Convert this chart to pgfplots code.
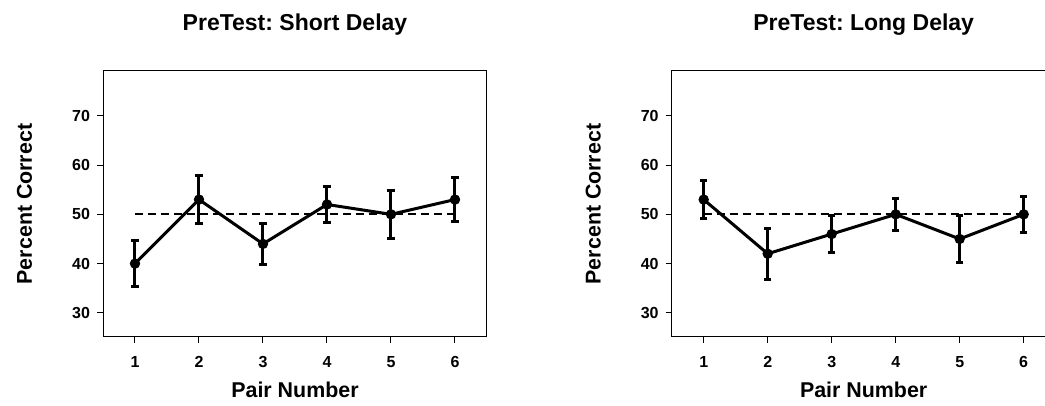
\documentclass[border=0pt]{standalone}
\usepackage{fontspec}
\setmainfont{Liberation Sans}
\usepackage{pgfplots}
\pgfplotsset{compat=1.18}
\frenchspacing

\pgfplotsset{
  delayaxis/.style={
    scale only axis,
    width=192pt, height=133pt,
    xmin=0.5, xmax=6.5, ymin=25.1, ymax=79.1,
    xtick={1,2,3,4,5,6}, ytick={30,40,50,60,70},
    tick align=outside, tick pos=left,
    major tick length=3pt,
    axis line style={line width=0.5pt},
    every tick/.style={black, line width=0.5pt},
    /pgf/number format/assume math mode=true,
    tick label style={font=\fontsize{8}{9}\selectfont\bfseries},
    xticklabel style={yshift=-3pt},
    title style={font=\fontsize{11.5}{13}\selectfont\bfseries,
                 at={(axis description cs:0.5,1)}, anchor=base, yshift=14.4pt},
    xlabel style={font=\fontsize{10.7}{12}\selectfont\bfseries,
                  at={(axis description cs:0.5,0)}, anchor=base, yshift=-30.5pt},
    ylabel style={font=\fontsize{10.7}{12}\selectfont\bfseries,
                  at={(axis description cs:0,0.5)}, anchor=center,
                  yshift=39.2pt},
    xlabel={Pair Number}, ylabel={Percent Correct},
  },
  meanline/.style={black, line width=1.5pt, mark=*, mark size=1.8pt,
    error bars/.cd, y dir=both, y explicit,
    error bar style={line width=1.5pt},
    error mark options={rotate=90, line width=1.5pt, mark size=1.8pt}},
  chance/.style={black, line width=1pt, dash pattern=on 4pt off 2.5pt, forget plot},
}

\begin{document}
\begin{tikzpicture}
\useasboundingbox (0,0) rectangle (522.5pt,203pt);

\begin{axis}[delayaxis, at={(51.5pt,34.5pt)}, anchor=south west,
  title={PreTest: Short Delay}]
  \addplot[chance] coordinates {(1,50) (6,50)};
  \addplot[meanline] coordinates {
    (1,40) +- (0,4.6)
    (2,53) +- (0,4.9)
    (3,44) +- (0,4.2)
    (4,52) +- (0,3.7)
    (5,50) +- (0,4.9)
    (6,53) +- (0,4.5)
  };
\end{axis}

\begin{axis}[delayaxis, at={(335.85pt,34.5pt)}, anchor=south west,
  title={PreTest: Long Delay}]
  \addplot[chance] coordinates {(1,50) (6,50)};
  \addplot[meanline] coordinates {
    (1,53) +- (0,3.8)
    (2,42) +- (0,5.2)
    (3,46) +- (0,3.8)
    (4,50) +- (0,3.2)
    (5,45) +- (0,4.8)
    (6,50) +- (0,3.7)
  };
\end{axis}
\end{tikzpicture}
\end{document}
